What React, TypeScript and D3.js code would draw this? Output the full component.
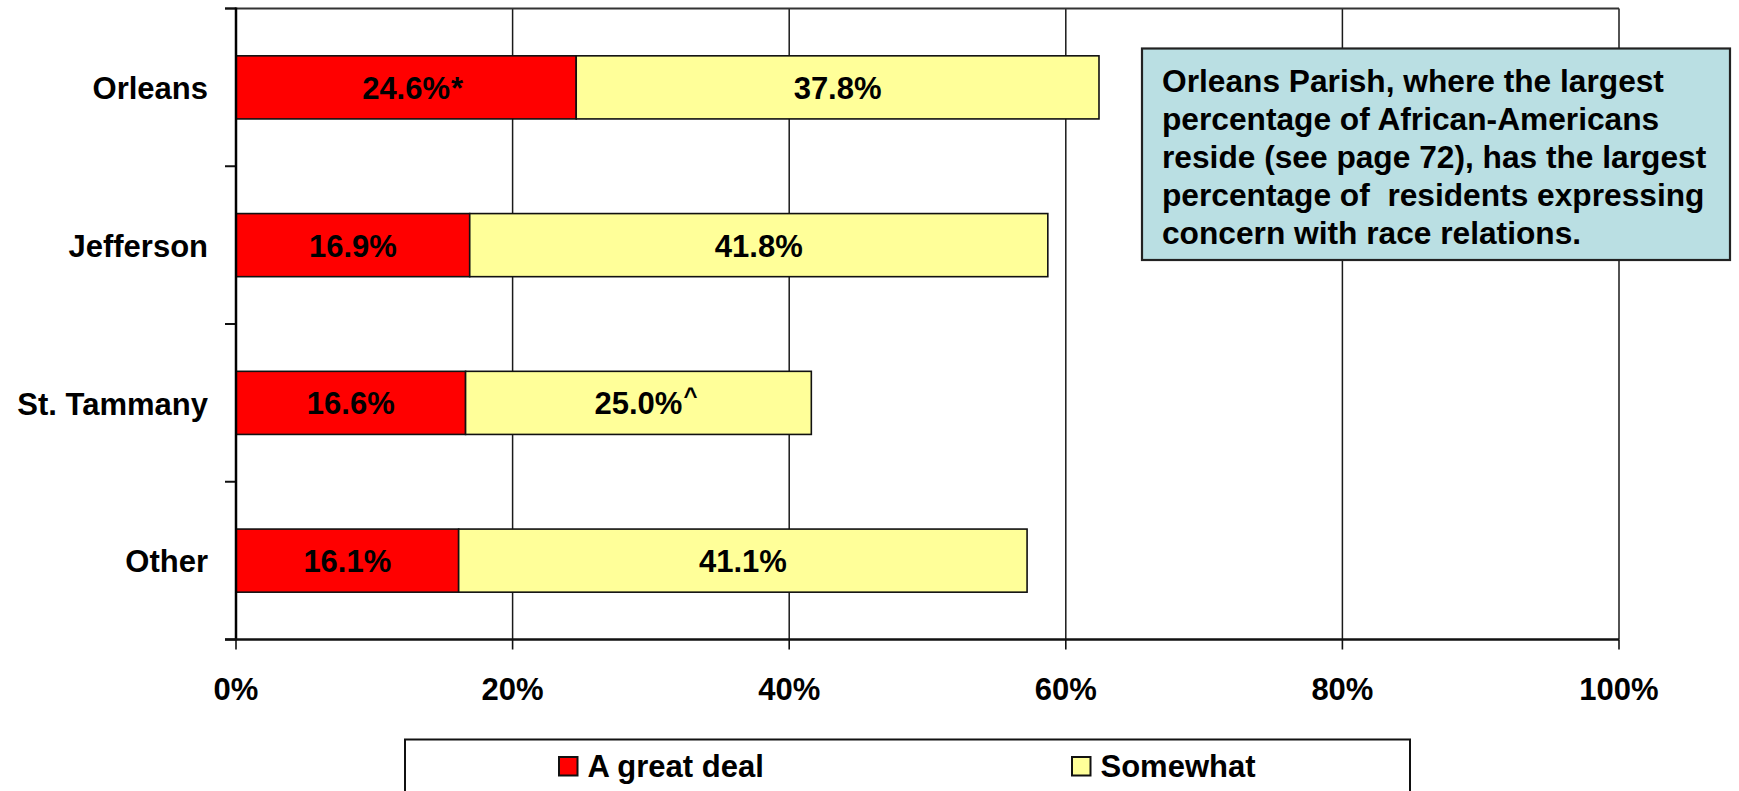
import React, { useEffect, useRef } from "react";
import * as d3 from "d3";

const categories = ["Orleans", "Jefferson", "St. Tammany", "Other"];
const greatDeal = [24.6, 16.9, 16.6, 16.1];
const somewhat = [37.8, 41.8, 25.0, 41.1];
const greatDealMarks = ["*", "", "", ""];
const somewhatMarks = ["", "", "^", ""];
const seriesNames = ["A great deal", "Somewhat"];
const seriesColors = ["#FF0000", "#FFFF99"];
const xTicks = [0, 20, 40, 60, 80, 100];
const noteLines = [
  "Orleans Parish, where the largest",
  "percentage of African-Americans",
  "reside (see page 72), has the largest",
  "percentage of  residents expressing",
  "concern with race relations.",
];

const W = 1739;
const H = 791;
const FONT = "'Liberation Sans', Arial, Helvetica, sans-serif";

export default function App() {
  const ref = useRef<SVGSVGElement | null>(null);

  useEffect(() => {
    document.body.style.margin = "0";
    const svg = d3.select(ref.current);
    svg.selectAll("*").remove();

    const left = 236;
    const right = 1619;
    const top = 8.5;
    const bottom = 639.5;

    const x = d3.scaleLinear().domain([0, 100]).range([left, right]);
    const y = d3
      .scaleBand<string>()
      .domain(categories)
      .range([top, bottom])
      .paddingInner(0.6)
      .paddingOuter(0.3);

    const g = svg.append("g").attr("font-family", FONT).attr("font-weight", "bold");

    // vertical gridlines
    g.selectAll("line.grid")
      .data(xTicks.filter((t) => t > 0))
      .join("line")
      .attr("x1", (d) => x(d))
      .attr("x2", (d) => x(d))
      .attr("y1", top)
      .attr("y2", bottom)
      .attr("stroke", "#1a1a1a")
      .attr("stroke-width", 1.5);

    // top border
    g.append("line")
      .attr("x1", left - 11)
      .attr("x2", right)
      .attr("y1", top)
      .attr("y2", top)
      .attr("stroke", "#333")
      .attr("stroke-width", 2);

    // category boundary ticks
    const step = y.step();
    const bounds = d3.range(categories.length + 1).map((i) => top + i * step);
    g.selectAll("line.ytick")
      .data(bounds)
      .join("line")
      .attr("x1", left - 11)
      .attr("x2", left)
      .attr("y1", (d) => d)
      .attr("y2", (d) => d)
      .attr("stroke", "#111")
      .attr("stroke-width", 2);

    // bars
    const rows = categories.map((c, i) => ({
      c,
      a: greatDeal[i],
      b: somewhat[i],
      ma: greatDealMarks[i],
      mb: somewhatMarks[i],
    }));

    const segs: { c: string; x0: number; x1: number; v: number; mark: string; color: string }[] = [];
    rows.forEach((r) => {
      segs.push({ c: r.c, x0: 0, x1: r.a, v: r.a, mark: r.ma, color: seriesColors[0] });
      segs.push({ c: r.c, x0: r.a, x1: r.a + r.b, v: r.b, mark: r.mb, color: seriesColors[1] });
    });

    g.selectAll("rect.bar")
      .data(segs)
      .join("rect")
      .attr("x", (d) => x(d.x0))
      .attr("y", (d) => y(d.c)!)
      .attr("width", (d) => x(d.x1) - x(d.x0))
      .attr("height", y.bandwidth())
      .attr("fill", (d) => d.color)
      .attr("stroke", "#111")
      .attr("stroke-width", 1.6);

    // bar labels
    segs.forEach((d) => {
      const cx = (x(d.x0) + x(d.x1)) / 2;
      const cy = y(d.c)! + y.bandwidth() / 2;
      const t = g
        .append("text")
        .attr("x", cx)
        .attr("y", cy)
        .attr("dy", "0.37em")
        .attr("text-anchor", "middle")
        .attr("font-size", 31)
        .attr("fill", "#000")
        .text(d.v.toFixed(1) + "%");
      if (d.mark) {
        const w = (t.node() as SVGTextElement).getComputedTextLength();
        const isCaret = d.mark === "^";
        g.append("text")
          .attr("x", cx + w / 2 + 1)
          .attr("y", cy)
          .attr("dy", isCaret ? "0.05em" : "0.36em")
          .attr("font-size", isCaret ? 24 : 31)
          .attr("fill", "#000")
          .text(d.mark);
      }
    });

    // category labels
    g.selectAll("text.cat")
      .data(categories)
      .join("text")
      .attr("x", left - 28)
      .attr("y", (d) => y(d)! + y.bandwidth() / 2)
      .attr("dy", "0.38em")
      .attr("text-anchor", "end")
      .attr("font-size", 31)
      .attr("fill", "#000")
      .text((d) => d);

    // y axis line
    g.append("line")
      .attr("x1", left)
      .attr("x2", left)
      .attr("y1", top - 1)
      .attr("y2", bottom + 1)
      .attr("stroke", "#000")
      .attr("stroke-width", 2.5);

    // x axis line
    g.append("line")
      .attr("x1", left - 11)
      .attr("x2", right)
      .attr("y1", bottom)
      .attr("y2", bottom)
      .attr("stroke", "#111")
      .attr("stroke-width", 2.5);

    // x ticks
    g.selectAll("line.xtick")
      .data(xTicks)
      .join("line")
      .attr("x1", (d) => x(d))
      .attr("x2", (d) => x(d))
      .attr("y1", bottom)
      .attr("y2", bottom + 10)
      .attr("stroke", "#111")
      .attr("stroke-width", 1.6);

    g.selectAll("text.xlab")
      .data(xTicks)
      .join("text")
      .attr("x", (d) => x(d))
      .attr("y", 700)
      .attr("text-anchor", "middle")
      .attr("font-size", 31)
      .attr("fill", "#000")
      .text((d) => d + "%");

    // annotation box
    g.append("rect")
      .attr("x", 1142)
      .attr("y", 48.5)
      .attr("width", 588)
      .attr("height", 211.5)
      .attr("fill", "#BADFE3")
      .attr("stroke", "#222")
      .attr("stroke-width", 2.2);

    const note = g
      .append("text")
      .attr("x", 1162)
      .attr("font-size", 31.7)
      .attr("fill", "#000")
      .attr("xml:space", "preserve")
      .style("white-space", "pre");
    noteLines.forEach((l, i) => {
      note
        .append("tspan")
        .attr("x", 1162)
        .attr("y", 92 + i * 38)
        .text(l);
    });

    // legend
    g.append("rect")
      .attr("x", 405)
      .attr("y", 739.5)
      .attr("width", 1005)
      .attr("height", 80)
      .attr("fill", "#fff")
      .attr("stroke", "#111")
      .attr("stroke-width", 2);

    const legendX = [559, 1072];
    seriesNames.forEach((name, i) => {
      g.append("rect")
        .attr("x", legendX[i])
        .attr("y", 757)
        .attr("width", 18.5)
        .attr("height", 18.5)
        .attr("fill", seriesColors[i])
        .attr("stroke", "#111")
        .attr("stroke-width", 2);
      g.append("text")
        .attr("x", legendX[i] + 28.5)
        .attr("y", 776.5)
        .attr("font-size", 31)
        .attr("fill", "#000")
        .text(name);
    });
  }, []);

  return (
    <svg
      ref={ref}
      width={W}
      height={H}
      viewBox={`0 0 ${W} ${H}`}
      style={{ position: "absolute", left: 0, top: 0, background: "#fff" }}
    />
  );
}
